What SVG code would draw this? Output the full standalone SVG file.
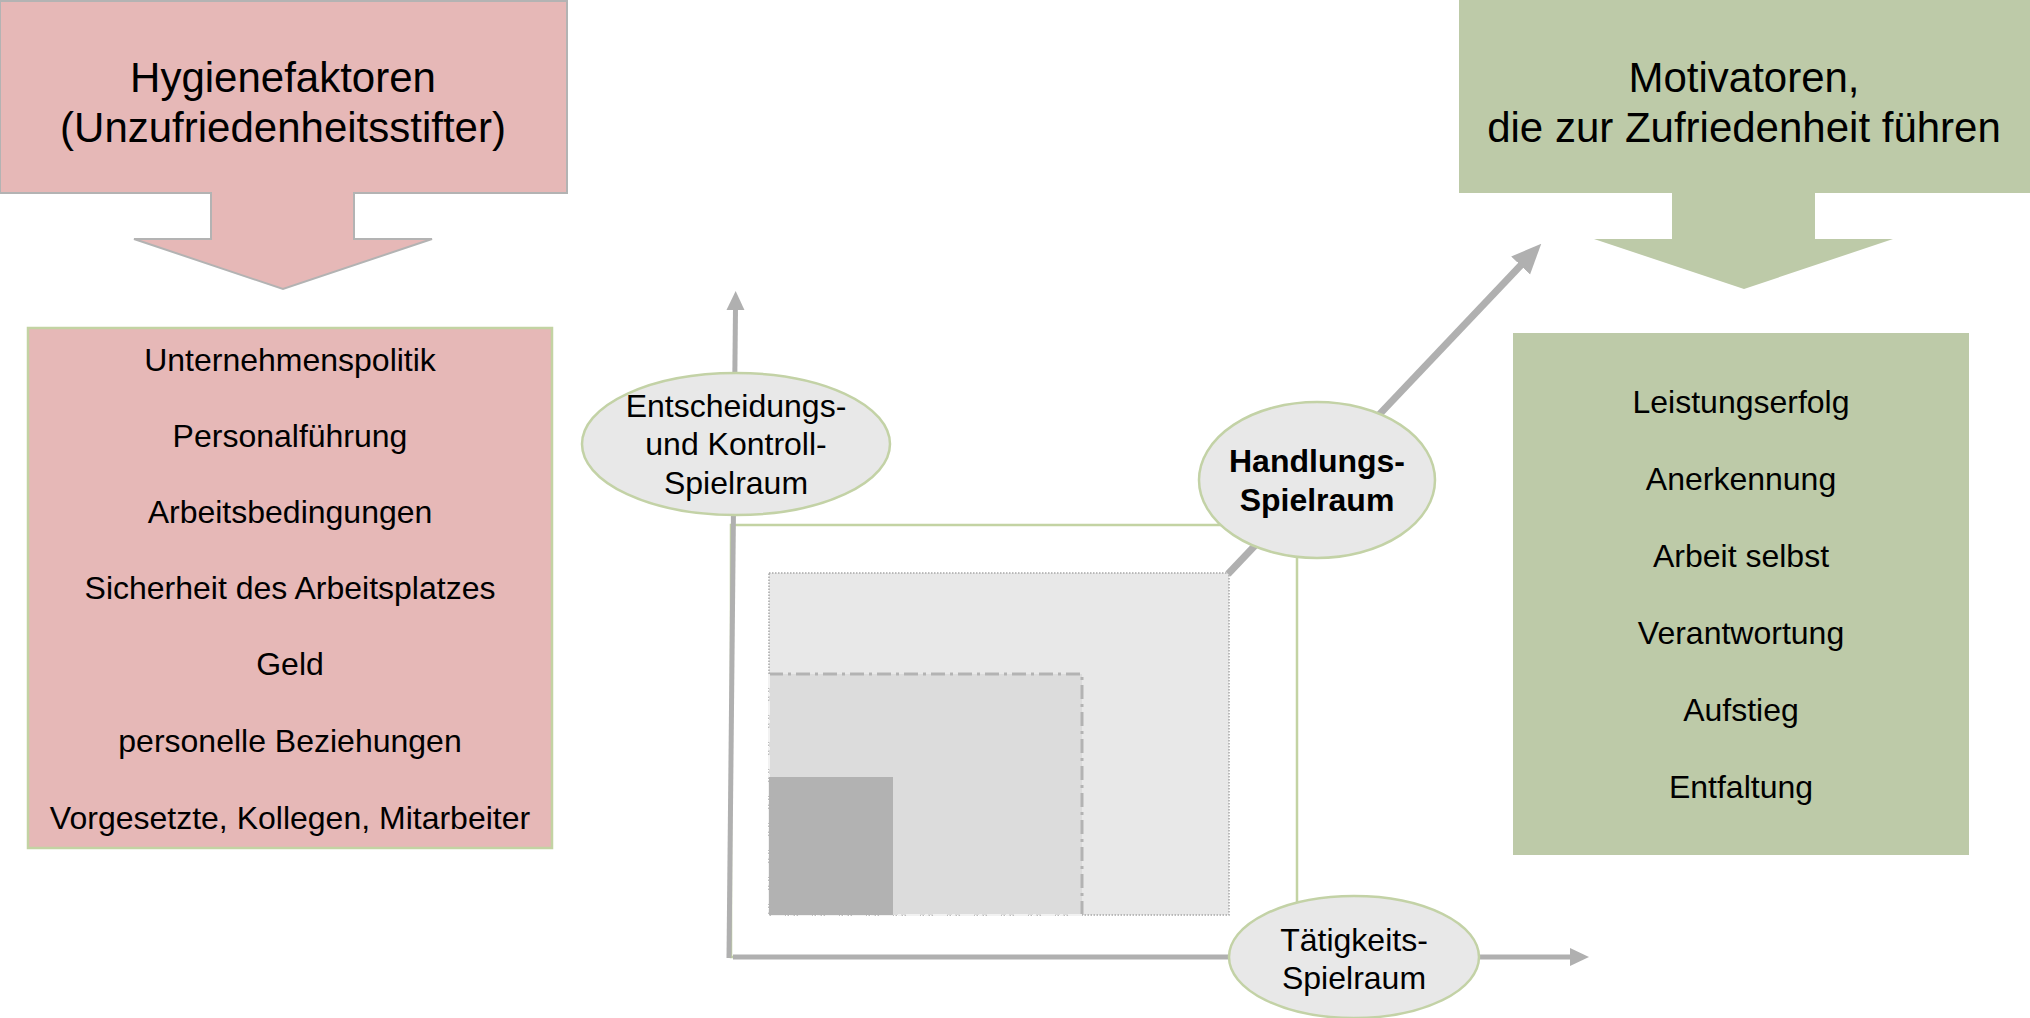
<svg xmlns="http://www.w3.org/2000/svg" width="2030" height="1018" viewBox="0 0 2030 1018">
  <style>
    .t { font-family: "Liberation Sans", Arial, sans-serif; fill: #000; text-anchor: middle; }
    .title { font-size: 42px; }
    .item { font-size: 32px; }
    .lbl { font-size: 32px; }
    .bold { font-weight: bold; }
    .axis { stroke: #b0b0b0; stroke-width: 5; fill: none; }
    .ell { fill: #e8e8e8; stroke: #c3d2a6; stroke-width: 2.5; }
  </style>
  <defs>
    <marker id="headAxis" markerUnits="userSpaceOnUse" markerWidth="20" markerHeight="20" viewBox="0 0 20 20" refX="2" refY="10" orient="auto">
      <path d="M0,1 L19,10 L0,19 Z" fill="#b0b0b0"/>
    </marker>
    <marker id="headDiag" markerUnits="userSpaceOnUse" markerWidth="30" markerHeight="28" viewBox="0 0 30 28" refX="2" refY="14" orient="auto">
      <path d="M0,1 L30,14 L0,27 Z" fill="#b0b0b0"/>
    </marker>
  </defs>

  <rect width="2030" height="1018" fill="#ffffff"/>

  <!-- hygiene factors: callout header with down arrow -->
  <g id="hygiene-header">
    <path d="M0,1 H567 V193 H354 V239 H432 L283,289 L134,239 H211 V193 H0 Z" fill="#e6b8b7" stroke="#b3b3b3" stroke-width="2"/>
    <text class="t title" x="283" y="92">Hygienefaktoren</text>
    <text class="t title" x="283" y="142">(Unzufriedenheitsstifter)</text>
  </g>

  <!-- hygiene factors list -->
  <g id="hygiene-list">
    <rect x="28" y="328" width="524" height="520" fill="#e6b8b7" stroke="#c3d3a3" stroke-width="2.5"/>
    <text class="t item" x="290" y="371">Unternehmenspolitik</text>
    <text class="t item" x="290" y="447">Personalführung</text>
    <text class="t item" x="290" y="523">Arbeitsbedingungen</text>
    <text class="t item" x="290" y="599">Sicherheit des Arbeitsplatzes</text>
    <text class="t item" x="290" y="675">Geld</text>
    <text class="t item" x="290" y="752">personelle Beziehungen</text>
    <text class="t item" x="290" y="829">Vorgesetzte, Kollegen, Mitarbeiter</text>
  </g>

  <!-- motivators: callout header with down arrow -->
  <g id="motivator-header">
    <path d="M1459,0 H2030 V193 H1815 V239 H1893 L1744,289 L1594,239 H1672 V193 H1459 Z" fill="#bdcaa8"/>
    <text class="t title" x="1744" y="92">Motivatoren,</text>
    <text class="t title" x="1744" y="142">die zur Zufriedenheit führen</text>
  </g>

  <!-- motivators list -->
  <g id="motivator-list">
    <rect x="1513" y="333" width="456" height="522" fill="#bdcaa8"/>
    <text class="t item" x="1741" y="413">Leistungserfolg</text>
    <text class="t item" x="1741" y="490">Anerkennung</text>
    <text class="t item" x="1741" y="567">Arbeit selbst</text>
    <text class="t item" x="1741" y="644">Verantwortung</text>
    <text class="t item" x="1741" y="721">Aufstieg</text>
    <text class="t item" x="1741" y="798">Entfaltung</text>
  </g>

  <!-- scope frame and nested areas -->
  <g id="scope-frame">
    <rect x="731" y="525" width="566" height="432" fill="none" stroke="#c3d3a3" stroke-width="2.5"/>
  </g>
  <g id="area-large">
    <rect x="769" y="573" width="460" height="342" fill="#e8e8e8" stroke="#a8a8a8" stroke-width="1.5" stroke-dasharray="1.5 1.5"/>
  </g>
  <g id="area-medium">
    <rect x="769" y="674" width="313" height="241" fill="#dcdcdc"/>
    <path d="M769,674 H1082 V915" fill="none" stroke="#b3b3b3" stroke-width="3" stroke-dasharray="14 5 3 5"/>
    <path d="M769,674 V915 H1082" fill="none" stroke="#f2f2f2" stroke-width="2" stroke-dasharray="14 5 3 5"/>
  </g>
  <g id="area-small">
    <rect x="769" y="777" width="124" height="138" fill="#b2b2b2"/>
  </g>

  <!-- axes and diagonal -->
  <g id="connectors">
    <line class="axis" x1="729" y1="958" x2="735.5" y2="308" marker-end="url(#headAxis)"/>
    <line class="axis" x1="733" y1="957" x2="1572" y2="957" marker-end="url(#headAxis)"/>
    <line x1="1228" y1="574" x2="1522" y2="264" stroke="#b0b0b0" stroke-width="7" marker-end="url(#headDiag)"/>
  </g>

  <!-- scope labels -->
  <g id="node-entscheidung">
    <ellipse class="ell" cx="736" cy="444" rx="154" ry="71"/>
    <text class="t lbl" x="736" y="417">Entscheidungs-</text>
    <text class="t lbl" x="736" y="455">und Kontroll-</text>
    <text class="t lbl" x="736" y="494">Spielraum</text>
  </g>
  <g id="node-handlung">
    <ellipse class="ell" cx="1317" cy="480" rx="118" ry="78"/>
    <text class="t lbl bold" x="1317" y="472">Handlungs-</text>
    <text class="t lbl bold" x="1317" y="511">Spielraum</text>
  </g>
  <g id="node-taetigkeit">
    <ellipse class="ell" cx="1354" cy="957" rx="125" ry="61"/>
    <text class="t lbl" x="1354" y="951">Tätigkeits-</text>
    <text class="t lbl" x="1354" y="989">Spielraum</text>
  </g>
</svg>
